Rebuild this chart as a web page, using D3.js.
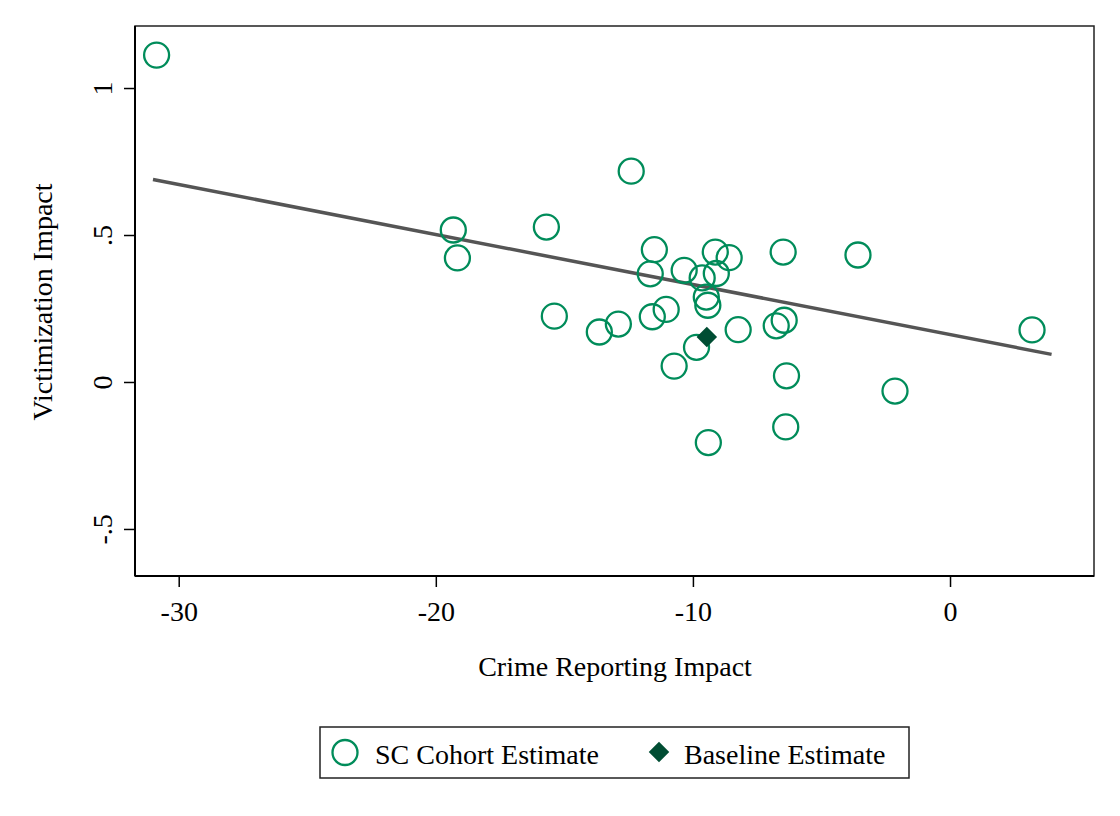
<!DOCTYPE html>
<html>
<head>
<meta charset="utf-8">
<script src="https://cdn.jsdelivr.net/npm/d3@7"></script>
<style>
  body { margin: 0; background: #fff; }
  text { font-family: "Liberation Serif", "Times New Roman", serif; }
</style>
</head>
<body>
<svg id="canvas" width="1120" height="816"></svg>
<script>
// SC cohort estimates (crime reporting impact, victimization impact)
let cohortX = [-30.86, -12.40, -19.32, -15.70, -19.16, -11.50, -11.66, -9.13, -8.59, -6.49,
               -3.58, -10.34, -9.64, -9.09, -9.48, -9.42, -15.39, -13.64, -12.90, -11.58,
               -11.04, -8.24, -6.76, -6.45, -9.86, -10.73, -6.36, -2.14, -6.39, -9.40, 3.19]
let cohortY = [1.112, 0.717, 0.517, 0.527, 0.422, 0.450, 0.368, 0.442, 0.423, 0.442,
               0.432, 0.380, 0.354, 0.369, 0.289, 0.261, 0.224, 0.170, 0.197, 0.222,
               0.247, 0.178, 0.191, 0.210, 0.118, 0.054, 0.021, -0.031, -0.153, -0.206, 0.177]

// baseline estimate
let baselineX = [-9.46]
let baselineY = [0.153]

// fitted line
let fitX = [-31.0, 3.95]
let fitY = [0.689, 0.094]

let xTicks = [-30, -20, -10, 0]
let xTickLabels = ['-30', '-20', '-10', '0']
let yTicks = [1, 0.5, 0, -0.5]
let yTickLabels = ['1', '.5', '0', '-.5']

let green = '#008c5a'
let darkGreen = '#004d33'

let canvas = d3.select('#canvas')

let plotLeft = 135, plotRight = 1094, plotTop = 26, plotBottom = 576

let xScale = d3.scaleLinear().domain([-31.70, 5.60]).range([plotLeft, plotRight])
let yScale = d3.scaleLinear().domain([-0.660, 1.211]).range([plotBottom, plotTop])

// frame
canvas.append('rect')
    .attr('x', plotLeft).attr('y', plotTop)
    .attr('width', plotRight - plotLeft).attr('height', plotBottom - plotTop)
    .attr('fill', 'none')
    .attr('stroke', '#222')
    .attr('stroke-width', 1.5)

// x axis
let xAxis = canvas.append('g')
    .attr('transform', 'translate(0,' + plotBottom + ')')
    .call(d3.axisBottom(xScale).tickValues(xTicks).tickSize(11).tickPadding(14).tickFormat((d, i) => xTickLabels[i]))
xAxis.select('.domain').attr('stroke', '#000').attr('stroke-width', 2).attr('d', 'M' + plotLeft + ',0H' + plotRight)
xAxis.selectAll('.tick line').attr('stroke', '#000').attr('stroke-width', 1.5)
xAxis.selectAll('.tick text')
    .attr('font-size', 28)
    .attr('fill', '#000')
    .attr('font-family', '"Liberation Serif", serif')

// y axis
let yAxis = canvas.append('g')
    .attr('transform', 'translate(' + plotLeft + ',0)')
    .call(d3.axisLeft(yScale).tickValues(yTicks).tickSize(11).tickFormat((d, i) => yTickLabels[i]))
yAxis.select('.domain').attr('stroke', '#000').attr('stroke-width', 2).attr('d', 'M0,' + plotTop + 'V' + plotBottom)
yAxis.selectAll('.tick line').attr('stroke', '#000').attr('stroke-width', 1.5)
yAxis.selectAll('.tick text')
    .attr('font-size', 28)
    .attr('fill', '#000')
    .attr('font-family', '"Liberation Serif", serif')
    .attr('x', null).attr('dy', null)
    .attr('text-anchor', 'middle')
    .attr('transform', 'translate(-23,0) rotate(-90)')

// fitted line
canvas.append('path')
    .datum(fitX.map((x, i) => [x, fitY[i]]))
    .attr('d', d3.line().x(d => xScale(d[0])).y(d => yScale(d[1])))
    .attr('fill', 'none')
    .attr('stroke', '#555')
    .attr('stroke-width', 3.5)

// cohort circles
canvas.selectAll('circle.cohort')
    .data(cohortX.map((x, i) => [x, cohortY[i]]))
    .enter()
    .append('circle')
    .attr('class', 'cohort')
    .attr('cx', d => xScale(d[0]))
    .attr('cy', d => yScale(d[1]))
    .attr('r', 12.5)
    .attr('fill', 'none')
    .attr('stroke', green)
    .attr('stroke-width', 2.3)

// baseline diamond
let diamond = d3.symbol().type(d3.symbolSquare).size(210)
canvas.selectAll('path.baseline')
    .data(baselineX.map((x, i) => [x, baselineY[i]]))
    .enter()
    .append('path')
    .attr('class', 'baseline')
    .attr('d', diamond)
    .attr('transform', d => 'translate(' + xScale(d[0]) + ',' + yScale(d[1]) + ') rotate(45)')
    .attr('fill', darkGreen)

// axis titles
canvas.append('text')
    .attr('x', 615).attr('y', 676)
    .attr('text-anchor', 'middle')
    .attr('font-size', 28)
    .text('Crime Reporting Impact')

canvas.append('text')
    .attr('transform', 'translate(52,302) rotate(-90)')
    .attr('text-anchor', 'middle')
    .attr('font-size', 28)
    .text('Victimization Impact')

// legend
let legend = canvas.append('g')
legend.append('rect')
    .attr('x', 320).attr('y', 727)
    .attr('width', 589).attr('height', 51)
    .attr('fill', '#fff')
    .attr('stroke', '#222')
    .attr('stroke-width', 1.5)
legend.append('circle')
    .attr('cx', 345).attr('cy', 752.5)
    .attr('r', 12.5)
    .attr('fill', 'none')
    .attr('stroke', green)
    .attr('stroke-width', 2.3)
legend.append('text')
    .attr('x', 375).attr('y', 764)
    .attr('font-size', 28)
    .text('SC Cohort Estimate')
legend.append('path')
    .attr('d', diamond)
    .attr('transform', 'translate(659,752) rotate(45)')
    .attr('fill', darkGreen)
legend.append('text')
    .attr('x', 684).attr('y', 764)
    .attr('font-size', 28)
    .text('Baseline Estimate')
</script>
</body>
</html>
